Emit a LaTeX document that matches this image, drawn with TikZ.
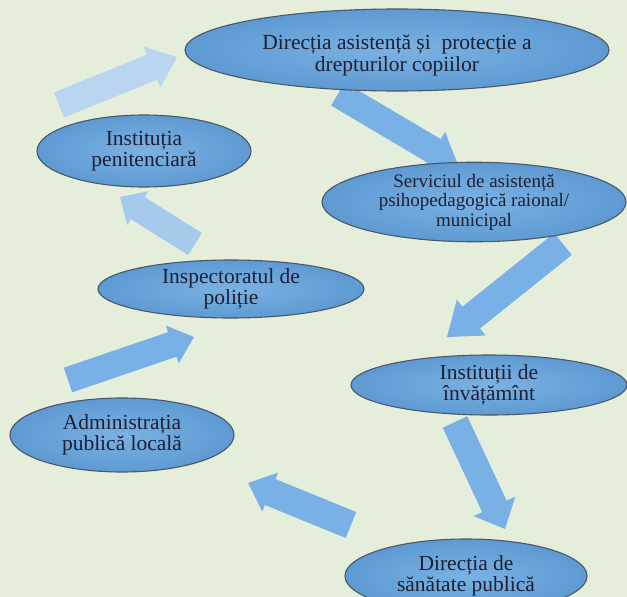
\documentclass[tikz,border=0pt]{standalone}
\usepackage{fontspec}
\setmainfont{Liberation Serif}
\usetikzlibrary{shapes.geometric,calc}
\definecolor{bgcol}{HTML}{E4EEDA}
\definecolor{ellin}{HTML}{7AB2E3}
\definecolor{ellout}{HTML}{5E9AD2}
\definecolor{edgecol}{HTML}{4A5868}
\definecolor{txtcol}{HTML}{1E1F33}
\definecolor{arrcol}{HTML}{79B0E5}
\definecolor{arrfade}{HTML}{B9D5EF}
\definecolor{arrmid}{HTML}{A6CAEC}
% #1 name, #2 start, #3 tip, #4 tail half width, #5 head half width, #6 head length, #7 colour
\newcommand\blockarr[7]{%
  \coordinate (#1-b) at ($(#3)!#6!(#2)$);
  \fill[#7] ($(#2)!#4!90:(#3)$) -- ($(#1-b)!#4!90:(#3)$) -- ($(#1-b)!#5!90:(#3)$)
    -- (#3) -- ($(#1-b)!#5!-90:(#3)$) -- ($(#1-b)!#4!-90:(#3)$) -- ($(#2)!#4!-90:(#3)$) -- cycle;
}
\begin{document}
\begin{tikzpicture}[x=1pt,y=-1pt,
  ell/.style={ellipse, draw=edgecol, line width=1.1pt, inner sep=0pt,
    shade, inner color=ellin, outer color=ellout, text=txtcol, align=center,
    font=\fontsize{21.5}{21.5}\selectfont}]
\useasboundingbox (0,0) rectangle (627,597);
\clip (0,0) rectangle (627,597);
\fill[bgcol] (0,0) rectangle (627,597);

% arrow end points
\coordinate (a1s) at (59,105);  \coordinate (a1t) at (177,57);
\coordinate (a2s) at (338,94);  \coordinate (a2t) at (458,165);
\coordinate (a3s) at (563,244); \coordinate (a3t) at (447,337);
\coordinate (a4s) at (455,422); \coordinate (a4t) at (505,529);
\coordinate (a5s) at (351,525); \coordinate (a5t) at (248,483);
\coordinate (a6s) at (68,380);  \coordinate (a6t) at (194,337);
\coordinate (a7s) at (195,244); \coordinate (a7t) at (120,197);

\blockarr{a1}{a1s}{a1t}{13.5pt}{22pt}{27pt}{arrfade}
\blockarr{a2}{a2s}{a2t}{13.5pt}{22pt}{28pt}{arrcol}
\blockarr{a3}{a3s}{a3t}{14pt}{23pt}{31pt}{arrcol}
\blockarr{a4}{a4s}{a4t}{13.5pt}{23pt}{25pt}{arrcol}
\blockarr{a5}{a5s}{a5t}{14pt}{21pt}{24pt}{arrcol}
\blockarr{a6}{a6s}{a6t}{13pt}{20pt}{23pt}{arrcol}
\blockarr{a7}{a7s}{a7t}{13pt}{20pt}{21pt}{arrmid}

\node[ell, minimum width=424pt, minimum height=82pt] (dir) at (397,50)
  {\raisebox{-6pt}[\height][\depth]{\begin{tabular}{@{}c@{}}Direcția asistență și\ \ protecție a\\drepturilor copiilor\end{tabular}}};
\node[ell, minimum width=214pt, minimum height=72pt] (pen) at (144,151)
  {Instituția\\penitenciară};
\node[ell, minimum width=304pt, minimum height=78pt, font=\fontsize{19}{19.5}\selectfont] (serv) at (474,202)
  {Serviciul de asistență\\psihopedagogică raional/\\municipal};
\node[ell, minimum width=266pt, minimum height=58pt] (insp) at (231,289)
  {Inspectoratul de\\poliție};
\node[ell, minimum width=276pt, minimum height=60pt] (inv) at (489,385)
  {Instituții de\\învățămînt};
\node[ell, minimum width=224pt, minimum height=74pt] (adm) at (122,435)
  {Administrația\\publică locală};
\node[ell, minimum width=242pt, minimum height=74pt] (san) at (466,576)
  {Direcția de\\sănătate publică};
\end{tikzpicture}
\end{document}
